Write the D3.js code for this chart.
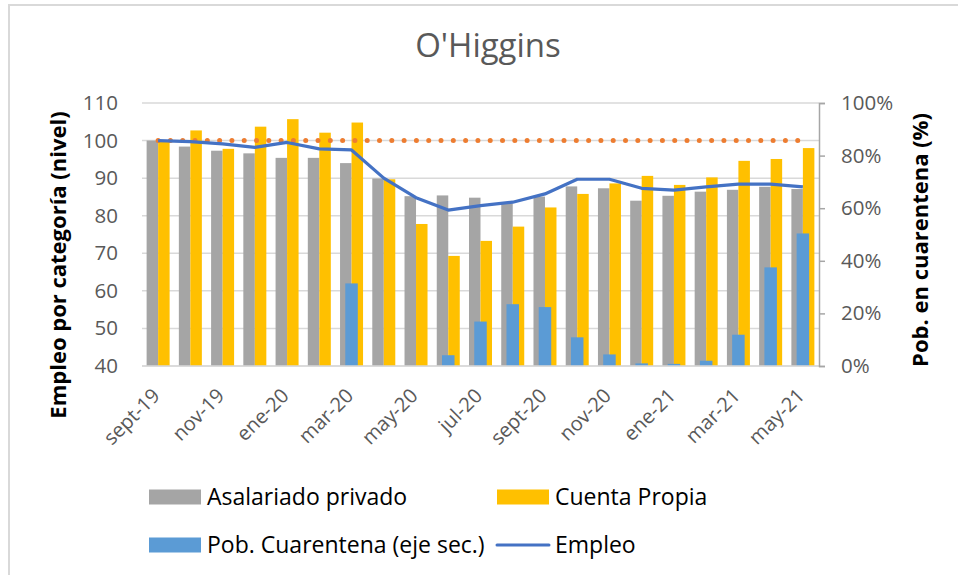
<!DOCTYPE html>
<html>
<head>
<meta charset="utf-8">
<script src="https://cdn.jsdelivr.net/npm/d3@7"></script>
<style>
  body { margin: 0; background: #fff; }
  text { font-family: "Open Sans", sans-serif; }
</style>
</head>
<body>
<script>
// O'Higgins - empleo por categoria vs poblacion en cuarentena
var meses = ["sept-19","oct-19","nov-19","dic-19","ene-20","feb-20","mar-20","abr-20","may-20","jun-20","jul-20","ago-20","sept-20","oct-20","nov-20","dic-20","ene-21","feb-21","mar-21","abr-21","may-21"];
var asalariado = [100,98.4,97.3,96.6,95.4,95.4,94.0,89.9,85.2,85.4,84.8,83.3,85.1,87.8,87.3,84.0,85.3,86.4,86.9,87.7,87.1];
var cuentaPropia = [100,102.7,97.8,103.7,105.7,102.1,104.8,89.7,77.8,69.3,73.3,77.1,82.2,85.8,88.6,90.6,88.2,90.2,94.6,95.1,98.0];
var cuarentena = [0,0,0,0,0,0,31.4,0,0,4.1,16.9,23.5,22.4,10.9,4.4,1.0,0.8,2.0,11.9,37.5,50.4];
var empleo = [100,99.7,99.1,98.2,99.5,97.8,97.5,90.0,84.8,81.5,82.7,83.6,85.8,89.7,89.7,87.3,86.8,87.7,88.4,88.4,87.7];
var base = meses.map(function() { return 100; });
var ticksIzq = [40,50,60,70,80,90,100,110];
var ticksDer = [0,20,40,60,80,100];

var w = 958, h = 575;
// plot area (note: "top" is reserved in the browser, so use other names)
var pLeft = 142, pRight = 819, pTop = 103, pBottom = 366;

var svg = d3.select("body").append("svg")
  .attr("width", w)
  .attr("height", h);

// chart frame
svg.append("rect")
  .attr("x", 9).attr("y", 5)
  .attr("width", w + 10).attr("height", h + 10)
  .attr("fill", "none")
  .attr("stroke", "#d9d9d9")
  .attr("stroke-width", 2);

var x = d3.scaleBand().domain(meses).range([pLeft, pRight]);
var xIn = d3.scaleBand().domain(["a","c"]).range([0, 23]);
var yL = d3.scaleLinear().domain([40, 110]).range([pBottom, pTop]);
var yR = d3.scaleLinear().domain([0, 100]).range([pBottom, pTop]);

// gridlines
svg.append("g")
  .selectAll("line")
  .data(ticksIzq)
  .enter()
  .append("line")
  .attr("x1", pLeft).attr("x2", pRight)
  .attr("y1", function(d) { return yL(d); })
  .attr("y2", function(d) { return yL(d); })
  .attr("stroke", "#d9d9d9")
  .attr("stroke-width", 1.5);

var off = (x.bandwidth() - 23) / 2;

svg.append("g").selectAll("rect")
  .data(asalariado)
  .enter()
  .append("rect")
  .attr("x", function(d, i) { return x(meses[i]) + off + xIn("a"); })
  .attr("width", xIn.bandwidth())
  .attr("y", function(d) { return yL(d); })
  .attr("height", function(d) { return yL(40) - yL(d); })
  .attr("fill", "#a5a5a5");

svg.append("g").selectAll("rect")
  .data(cuentaPropia)
  .enter()
  .append("rect")
  .attr("x", function(d, i) { return x(meses[i]) + off + xIn("c"); })
  .attr("width", xIn.bandwidth())
  .attr("y", function(d) { return yL(d); })
  .attr("height", function(d) { return yL(40) - yL(d); })
  .attr("fill", "#ffc000");

// secondary axis bars drawn on top
var bw = 12.5;
svg.append("g").selectAll("rect")
  .data(cuarentena)
  .enter()
  .append("rect")
  .attr("x", function(d, i) { return x(meses[i]) + x.bandwidth() / 2 - bw / 2; })
  .attr("width", bw)
  .attr("y", function(d) { return yR(d); })
  .attr("height", function(d) { return yR(0) - yR(d); })
  .attr("fill", "#5b9bd5");

// bottom axis line
svg.append("line")
  .attr("x1", pLeft).attr("x2", pRight)
  .attr("y1", pBottom).attr("y2", pBottom)
  .attr("stroke", "#d9d9d9")
  .attr("stroke-width", 1.5);

var cx = function(d, i) { return x(meses[i]) + x.bandwidth() / 2; };

// dotted reference line at 100
svg.append("path")
  .datum(base)
  .attr("d", d3.line().x(cx).y(function(d) { return yL(d); }))
  .attr("fill", "none")
  .attr("stroke", "#ed7d31")
  .attr("stroke-width", 5)
  .attr("stroke-linecap", "round")
  .attr("stroke-dasharray", "0 12.3");

svg.append("path")
  .datum(empleo)
  .attr("d", d3.line().x(cx).y(function(d) { return yL(d); }))
  .attr("fill", "none")
  .attr("stroke", "#4472c4")
  .attr("stroke-width", 3.2)
  .attr("stroke-linejoin", "round");

// left axis labels
var yAxisL = d3.axisLeft(yL).tickValues(ticksIzq).tickSize(0).tickPadding(0);
var gL = svg.append("g")
  .attr("transform", "translate(118,0)")
  .call(yAxisL);
gL.select(".domain").remove();
gL.selectAll("text")
  .attr("fill", "#595959")
  .style("font-size", "20.5px")
  .style("font-family", "'Open Sans', sans-serif");

// right axis
var yAxisR = d3.axisRight(yR).tickValues(ticksDer).tickSize(6).tickPadding(16)
  .tickFormat(function(d) { return d + "%"; });
var gR = svg.append("g")
  .attr("transform", "translate(" + pRight + ",0)")
  .call(yAxisR);
gR.select(".domain").attr("stroke", "#a6a6a6").attr("stroke-width", 1.5);
gR.selectAll(".tick line").attr("stroke", "#a6a6a6").attr("stroke-width", 1.5);
gR.selectAll("text")
  .attr("fill", "#595959")
  .style("font-size", "20.5px")
  .style("font-family", "'Open Sans', sans-serif");

// x labels, every second month
svg.append("g").selectAll("text")
  .data(meses)
  .enter()
  .filter(function(d, i) { return i % 2 == 0; })
  .append("text")
  .text(function(d) { return d; })
  .attr("transform", function(d) {
    return "translate(" + (x(d) + x.bandwidth() / 2 + 3) + ",397) rotate(-45)";
  })
  .attr("text-anchor", "end")
  .attr("fill", "#595959")
  .style("font-size", "20px");

// titles
svg.append("text")
  .text("O'Higgins")
  .attr("x", 488).attr("y", 56.5)
  .attr("text-anchor", "middle")
  .attr("fill", "#595959")
  .style("font-size", "33px");

svg.append("text")
  .text("Empleo por categoría (nivel)")
  .attr("transform", "translate(66,265) rotate(-90)")
  .attr("text-anchor", "middle")
  .attr("font-weight", "bold")
  .attr("fill", "#000")
  .style("font-size", "22px");

svg.append("text")
  .text("Pob. en cuarentena (%)")
  .attr("transform", "translate(928,240) rotate(-90)")
  .attr("text-anchor", "middle")
  .attr("font-weight", "bold")
  .attr("fill", "#000")
  .style("font-size", "22px");

// legend
var leyenda = [
  {nombre: "Asalariado privado", color: "#a5a5a5", tipo: "bar", x: 149, y: 497},
  {nombre: "Cuenta Propia", color: "#ffc000", tipo: "bar", x: 497, y: 497},
  {nombre: "Pob. Cuarentena (eje sec.)", color: "#5b9bd5", tipo: "bar", x: 149, y: 545},
  {nombre: "Empleo", color: "#4472c4", tipo: "line", x: 497, y: 545}
];
var lg = svg.append("g").selectAll("g")
  .data(leyenda)
  .enter()
  .append("g")
  .attr("transform", function(d) { return "translate(" + d.x + "," + d.y + ")"; });
lg.filter(function(d) { return d.tipo == "bar"; })
  .append("rect")
  .attr("x", 0).attr("y", -7.5)
  .attr("width", 52).attr("height", 15)
  .attr("fill", function(d) { return d.color; });
lg.filter(function(d) { return d.tipo == "line"; })
  .append("line")
  .attr("x1", 0).attr("x2", 52)
  .attr("y1", 0).attr("y2", 0)
  .attr("stroke", function(d) { return d.color; })
  .attr("stroke-width", 3)
  .attr("stroke-linecap", "round");
lg.append("text")
  .text(function(d) { return d.nombre; })
  .attr("x", 58)
  .attr("dy", "0.35em")
  .attr("fill", "#000")
  .style("font-size", "23px");
</script>
</body>
</html>
